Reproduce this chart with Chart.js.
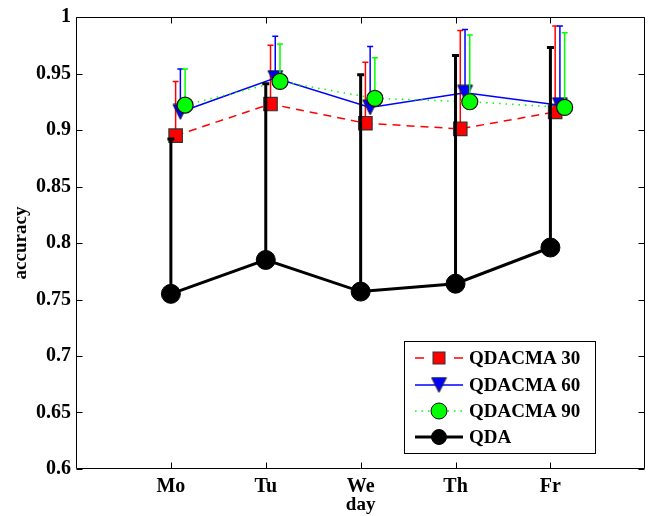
<!DOCTYPE html>
<html>
<head>
    <title>Accuracy by day</title>
    <script src="https://cdn.jsdelivr.net/npm/chart.js"></script>
    <style>
        html, body { margin: 0; padding: 0; overflow: hidden; background: #fff; }
        canvas { display: block; }
    </style>
</head>
<body>
    <canvas id="accChart" width="656" height="516"></canvas>

    <script>
        // values
        const days = ['Mo', 'Tu', 'We', 'Th', 'Fr'];
        const yTicks = [0.6, 0.65, 0.7, 0.75, 0.8, 0.85, 0.9, 0.95, 1];

        const qdacma30 = [0.895, 0.923, 0.906, 0.901, 0.916];
        const qdacma30Err = [0.048, 0.052, 0.054, 0.087, 0.076];
        const qdacma60 = [0.916, 0.946, 0.920, 0.933, 0.922];
        const qdacma60Err = [0.038, 0.037, 0.054, 0.056, 0.070];
        const qdacma90 = [0.922, 0.943, 0.928, 0.925, 0.920];
        const qdacma90Err = [0.032, 0.033, 0.036, 0.059, 0.066];
        const qda = [0.755, 0.785, 0.757, 0.764, 0.796];
        const qdaErr = [0.137, 0.156, 0.192, 0.202, 0.177];

        const FONT = '"Liberation Serif", "Times New Roman", serif';

        function downTriangle(w, h, fill) {
            const c = document.createElement('canvas');
            c.width = w + 2;
            c.height = h + 2;
            const g = c.getContext('2d');
            g.beginPath();
            g.moveTo(1, 1);
            g.lineTo(w + 1, 1);
            g.lineTo(w / 2 + 1, h + 1);
            g.closePath();
            g.fillStyle = fill;
            g.fill();
            g.strokeStyle = '#222';
            g.lineWidth = 1;
            g.stroke();
            return c;
        }
        const triMarker = downTriangle(15, 15, '#0000ff');

        function points(values, shift) {
            return values.map((v, i) => ({ x: i + 1 + shift, y: v }));
        }

        // upward-only error bars, drawn just before each dataset
        const errorBars = {
            id: 'errorBars',
            beforeDatasetDraw(chart, args) {
                const ds = chart.data.datasets[args.index];
                if (!ds.errors) return;
                const ctx = chart.ctx;
                const yScale = chart.scales.y;
                ctx.save();
                ctx.strokeStyle = ds.barColor;
                ctx.lineWidth = ds.barWidth;
                ctx.lineCap = 'butt';
                args.meta.data.forEach((pt, i) => {
                    const top = yScale.getPixelForValue(ds.data[i].y + ds.errors[i]);
                    ctx.beginPath();
                    ctx.moveTo(pt.x, pt.y);
                    ctx.lineTo(pt.x, top);
                    ctx.moveTo(pt.x - ds.capHalf, top);
                    ctx.lineTo(pt.x + ds.capHalf, top);
                    ctx.stroke();
                });
                ctx.restore();
            }
        };

        // matlab style box with inward ticks
        const frame = {
            id: 'frame',
            afterDatasetsDraw(chart) {
                const ctx = chart.ctx;
                const a = chart.chartArea;
                const xs = chart.scales.x, ys = chart.scales.y;
                const L = Math.round(a.left) + 0.5, R = Math.round(a.right) - 0.5;
                const T = Math.round(a.top) + 0.5, B = Math.round(a.bottom) - 0.5;
                ctx.save();
                ctx.strokeStyle = '#000';
                ctx.lineWidth = 1;
                ctx.beginPath();
                ctx.rect(L, T, R - L, B - T);
                days.forEach((d, i) => {
                    const x = Math.round(xs.getPixelForValue(i + 1)) + 0.5;
                    ctx.moveTo(x, B); ctx.lineTo(x, B - 6);
                    ctx.moveTo(x, T); ctx.lineTo(x, T + 6);
                });
                yTicks.forEach(v => {
                    const y = Math.round(ys.getPixelForValue(v)) + 0.5;
                    ctx.moveTo(L, y); ctx.lineTo(L + 6, y);
                    ctx.moveTo(R, y); ctx.lineTo(R - 6, y);
                });
                ctx.stroke();
                ctx.restore();
            }
        };

        const legendBox = {
            id: 'legendBox',
            afterDraw(chart) {
                const ctx = chart.ctx;
                const bx = 404.5, by = 341.5, bw = 191, bh = 112;
                ctx.save();
                ctx.fillStyle = '#fff';
                ctx.fillRect(bx, by, bw, bh);
                ctx.strokeStyle = '#000';
                ctx.lineWidth = 1;
                ctx.strokeRect(bx, by, bw, bh);

                const rows = [358, 385, 411, 437];
                const mx = 439;
                const order = [3, 2, 1, 0];
                order.forEach((dsIndex, r) => {
                    const ds = chart.data.datasets[dsIndex];
                    const y = rows[r];
                    ctx.save();
                    ctx.strokeStyle = ds.borderColor;
                    ctx.lineWidth = ds.borderWidth;
                    ctx.beginPath();
                    if (ds.legendShape === 'square') {
                        ctx.moveTo(415, y); ctx.lineTo(424, y);
                        ctx.moveTo(454, y); ctx.lineTo(463, y);
                    } else {
                        ctx.setLineDash(ds.borderDash || []);
                        ctx.moveTo(415, y); ctx.lineTo(463, y);
                    }
                    ctx.stroke();
                    ctx.restore();

                    ctx.fillStyle = ds.pointBackgroundColor;
                    ctx.strokeStyle = ds.pointBorderColor;
                    ctx.lineWidth = 1;
                    if (ds.legendShape === 'square') {
                        ctx.fillRect(mx - 6, y - 6, 12, 12);
                        ctx.strokeRect(mx - 6, y - 6, 12, 12);
                    } else if (ds.legendShape === 'tri') {
                        ctx.drawImage(triMarker, mx - triMarker.width / 2, y - triMarker.height / 2);
                    } else {
                        const rad = ds.legendShape === 'big' ? 7.5 : 8;
                        ctx.beginPath();
                        ctx.arc(mx, y, rad, 0, Math.PI * 2);
                        ctx.fill();
                        ctx.stroke();
                    }

                    ctx.fillStyle = '#000';
                    ctx.font = 'bold 19px ' + FONT;
                    ctx.textAlign = 'left';
                    ctx.textBaseline = 'middle';
                    ctx.fillText(ds.label, 469, y + 1);
                });
                ctx.restore();
            }
        };

        const ctx = document.getElementById('accChart').getContext('2d');
        new Chart(ctx, {
            type: 'line',
            data: {
                datasets: [
                    {
                        label: 'QDA',
                        data: points(qda, 0),
                        errors: qdaErr,
                        barColor: '#000', barWidth: 3, capHalf: 3.5,
                        borderColor: '#000',
                        borderWidth: 3,
                        pointStyle: 'circle',
                        pointRadius: 9.5,
                        pointBackgroundColor: '#000',
                        pointBorderColor: '#000',
                        pointBorderWidth: 1,
                        legendShape: 'big',
                        order: 0
                    },
                    {
                        label: 'QDACMA 90',
                        data: points(qdacma90, 0.15),
                        errors: qdacma90Err,
                        barColor: '#00ff00', barWidth: 1.5, capHalf: 3,
                        borderColor: '#00ff00',
                        borderWidth: 1.5,
                        borderDash: [1.5, 5],
                        pointStyle: 'circle',
                        pointRadius: 8,
                        pointBackgroundColor: '#00ff00',
                        pointBorderColor: '#111',
                        pointBorderWidth: 1.2,
                        legendShape: 'circle',
                        order: 1
                    },
                    {
                        label: 'QDACMA 60',
                        data: points(qdacma60, 0.1),
                        errors: qdacma60Err,
                        barColor: '#0000ff', barWidth: 1.5, capHalf: 3,
                        borderColor: '#0000ff',
                        borderWidth: 1.5,
                        pointStyle: triMarker,
                        pointRadius: 8,
                        pointBackgroundColor: '#0000ff',
                        pointBorderColor: '#222',
                        legendShape: 'tri',
                        order: 2
                    },
                    {
                        label: 'QDACMA 30',
                        data: points(qdacma30, 0.05),
                        errors: qdacma30Err,
                        barColor: '#ff0000', barWidth: 1.5, capHalf: 3,
                        borderColor: '#ff0000',
                        borderWidth: 1.5,
                        borderDash: [8, 6],
                        pointStyle: 'rect',
                        pointRadius: 9.5,
                        pointBackgroundColor: '#ff0000',
                        pointBorderColor: '#333',
                        pointBorderWidth: 1.2,
                        legendShape: 'square',
                        order: 3
                    }
                ]
            },
            options: {
                responsive: false,
                animation: false,
                layout: { padding: { left: 0, top: 14, right: 5, bottom: 0 } },
                plugins: {
                    legend: { display: false },
                    tooltip: { enabled: false }
                },
                scales: {
                    x: {
                        type: 'linear',
                        min: 0,
                        max: 6,
                        afterBuildTicks: s => { s.ticks = days.map((d, i) => ({ value: i + 1 })); },
                        afterFit: s => { s.height = 47; },
                        grid: { display: false, drawTicks: false },
                        border: { display: false },
                        ticks: {
                            padding: 6,
                            color: '#000',
                            font: { family: FONT, size: 20, weight: 'bold' },
                            callback: v => days[v - 1]
                        },
                        title: {
                            display: true,
                            text: 'day',
                            color: '#000',
                            padding: { top: 0, bottom: 0 },
                            font: { family: FONT, size: 19, weight: 'bold' }
                        }
                    },
                    y: {
                        min: 0.6,
                        max: 1,
                        afterBuildTicks: s => { s.ticks = yTicks.map(v => ({ value: v })); },
                        afterFit: s => { s.width = 76; },
                        grid: { display: false, drawTicks: false },
                        border: { display: false },
                        ticks: {
                            padding: 5,
                            color: '#000',
                            font: { family: FONT, size: 20, weight: 'bold' },
                            callback: v => String(+v.toFixed(2))
                        },
                        title: {
                            display: true,
                            text: 'accuracy',
                            color: '#000',
                            padding: { top: 10, bottom: 0 },
                            font: { family: FONT, size: 19, weight: 'bold' }
                        }
                    }
                }
            },
            plugins: [errorBars, frame, legendBox]
        });
    </script>
</body>
</html>
